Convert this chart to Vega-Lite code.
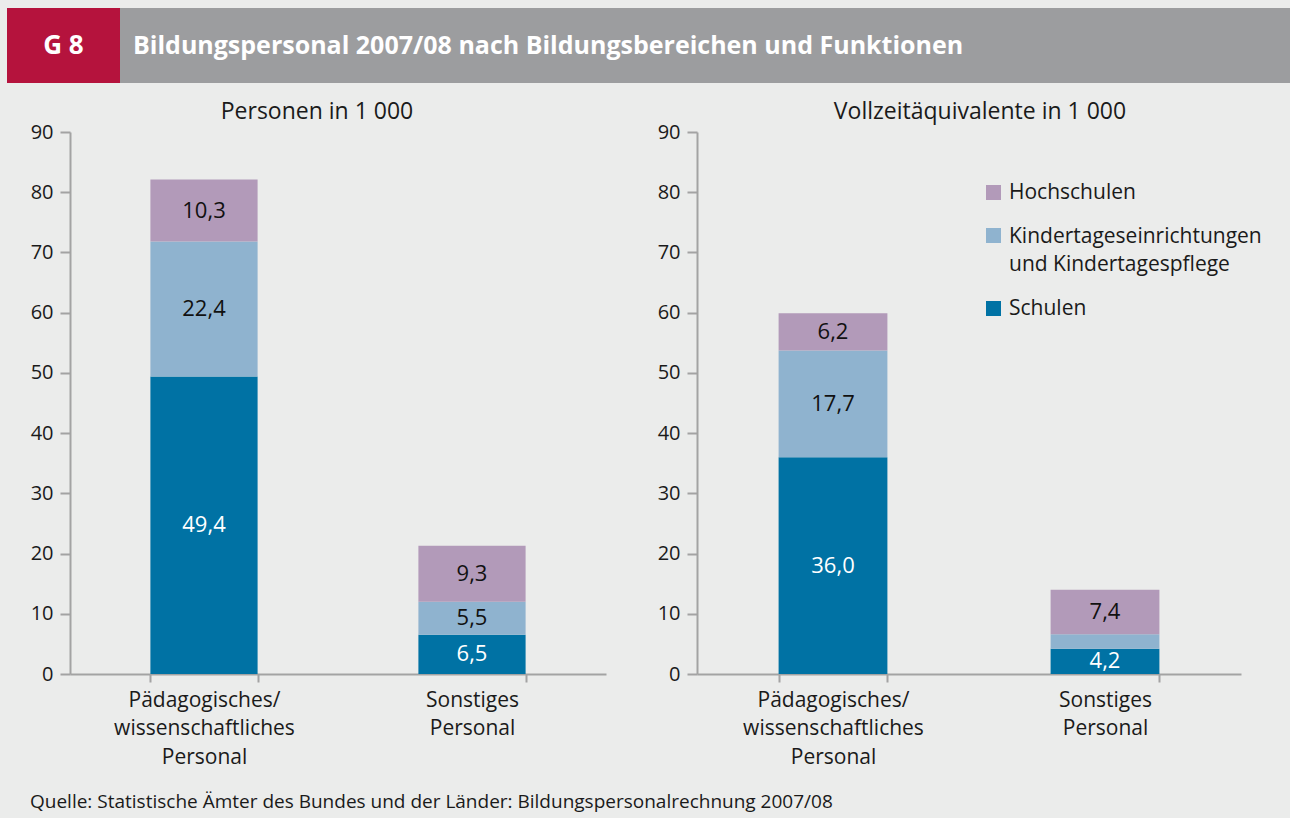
{
  "$schema": "https://vega.github.io/schema/vega-lite/v6.json",
  "background": "#ebeceb",
  "padding": {"left": 7, "top": 8, "right": 0, "bottom": 6},
  "config": {
    "font": "Open Sans",
    "view": {"stroke": null},
    "locale": {"number": {"decimal": ",", "thousands": ".", "grouping": [3], "currency": ["", " €"]}},
    "axis": {
      "domainColor": "#a3a3a3", "tickColor": "#a3a3a3", "domainWidth": 2, "tickWidth": 2,
      "labelColor": "#1a1a1a", "labelFont": "Open Sans", "grid": false, "title": null
    },
    "title": {"font": "Open Sans", "color": "#1a1a1a", "fontWeight": "normal"}
  },
  "datasets": {
    "personen": [
      {"funktion": "Pädagogisches/ wissenschaftliches Personal", "bereich": "Schulen", "ord": 1, "wert": 49.4},
      {"funktion": "Pädagogisches/ wissenschaftliches Personal", "bereich": "Kindertageseinrichtungen und Kindertagespflege", "ord": 2, "wert": 22.4},
      {"funktion": "Pädagogisches/ wissenschaftliches Personal", "bereich": "Hochschulen", "ord": 3, "wert": 10.3},
      {"funktion": "Sonstiges Personal", "bereich": "Schulen", "ord": 1, "wert": 6.5},
      {"funktion": "Sonstiges Personal", "bereich": "Kindertageseinrichtungen und Kindertagespflege", "ord": 2, "wert": 5.5},
      {"funktion": "Sonstiges Personal", "bereich": "Hochschulen", "ord": 3, "wert": 9.3}
    ],
    "vzae": [
      {"funktion": "Pädagogisches/ wissenschaftliches Personal", "bereich": "Schulen", "ord": 1, "wert": 36.0},
      {"funktion": "Pädagogisches/ wissenschaftliches Personal", "bereich": "Kindertageseinrichtungen und Kindertagespflege", "ord": 2, "wert": 17.7},
      {"funktion": "Pädagogisches/ wissenschaftliches Personal", "bereich": "Hochschulen", "ord": 3, "wert": 6.2},
      {"funktion": "Sonstiges Personal", "bereich": "Schulen", "ord": 1, "wert": 4.2},
      {"funktion": "Sonstiges Personal", "bereich": "Kindertageseinrichtungen und Kindertagespflege", "ord": 2, "wert": 2.4},
      {"funktion": "Sonstiges Personal", "bereich": "Hochschulen", "ord": 3, "wert": 7.4}
    ],
    "leer": []
  },
  "title": {
    "text": "Quelle: Statistische Ämter des Bundes und der Länder: Bildungspersonalrechnung 2007/08",
    "orient": "bottom", "anchor": "start", "frame": "group", "dx": 23, "offset": 26,
    "fontSize": 19, "baseline": "top"
  },
  "spacing": 18,
  "vconcat": [
    {
      "spacing": 0,
      "hconcat": [
        {
          "width": 113, "height": 75,
          "view": {"fill": "#b5133d", "stroke": null},
          "data": {"values": [{"t": "G 8"}]},
          "mark": {"type": "text", "color": "#ffffff", "fontWeight": "bold", "fontSize": 26, "align": "center", "baseline": "middle"},
          "encoding": {"text": {"field": "t", "type": "nominal"}}
        },
        {
          "width": 1170, "height": 75,
          "view": {"fill": "#9c9d9f", "stroke": null},
          "data": {"values": [{"t": "Bildungspersonal 2007/08 nach Bildungsbereichen und Funktionen"}]},
          "mark": {"type": "text", "color": "#ffffff", "fontWeight": "bold", "fontSize": 25, "align": "left", "baseline": "middle"},
          "encoding": {"text": {"field": "t", "type": "nominal"}, "x": {"value": 13}}
        }
      ]
    },
    {
      "spacing": 0,
      "resolve": {"scale": {"color": "independent"}},
      "hconcat": [
        {
          "width": 1, "height": 542,
          "data": {"name": "leer"},
          "mark": {"type": "text"},
          "encoding": {}
        },
        {
          "width": 536, "height": 542,
          "title": {"text": "Personen in 1 000", "frame": "group", "dx": -21, "fontSize": 23, "offset": -20, "baseline": "alphabetic"},
          "data": {"name": "personen"},
          "layer": [
            {
              "mark": {"type": "bar"},
              "encoding": {
                "x": {"field": "funktion", "type": "nominal", "sort": null,
                      "scale": {"paddingInner": 0.6, "paddingOuter": 0.3},
                      "axis": {"labelAngle": 0, "tickBand": "extent", "tickSize": 8, "labelPadding": 7, "labelFontSize": 21, "labelLineHeight": 28.5, "labelLimit": 400, "labelExpr": "split(datum.label, ' ')"}},
                "y": {"field": "wert", "type": "quantitative", "stack": "zero",
                      "scale": {"domain": [0, 90], "nice": false},
                      "axis": {"values": [0, 10, 20, 30, 40, 50, 60, 70, 80, 90], "tickSize": 10, "labelPadding": 7, "labelFontSize": 20, "minExtent": 62}},
                "order": {"field": "ord", "type": "quantitative"},
                "color": {"field": "bereich", "type": "nominal",
                          "scale": {"domain": ["Hochschulen", "Kindertageseinrichtungen und Kindertagespflege", "Schulen"], "range": ["#b29ab9", "#8fb3cf", "#0072a4"]},
                          "legend": null}
              }
            },
            {
              "mark": {"type": "text", "fontSize": 22, "baseline": "middle"},
              "encoding": {
                "x": {"field": "funktion", "type": "nominal", "sort": null},
                "y": {"field": "wert", "type": "quantitative", "stack": "zero", "bandPosition": 0.5},
                "detail": {"field": "bereich", "type": "nominal"},
                "order": {"field": "ord", "type": "quantitative"},
                "text": {"field": "wert", "type": "quantitative", "format": ".1f"},
                "color": {"condition": {"test": "datum.bereich === 'Schulen'", "value": "#ffffff"}, "value": "#111111"},
                "opacity": {"condition": {"test": "datum.wert < 3", "value": 0}, "value": 1}
              }
            }
          ]
        },
        {
          "width": 544, "height": 542,
          "title": {"text": "Vollzeitäquivalente in 1 000", "frame": "group", "dx": 11, "fontSize": 23, "offset": -20, "baseline": "alphabetic"},
          "data": {"name": "vzae"},
          "layer": [
            {
              "mark": {"type": "bar"},
              "encoding": {
                "x": {"field": "funktion", "type": "nominal", "sort": null,
                      "scale": {"paddingInner": 0.6, "paddingOuter": 0.3},
                      "axis": {"labelAngle": 0, "tickBand": "extent", "tickSize": 8, "labelPadding": 7, "labelFontSize": 21, "labelLineHeight": 28.5, "labelLimit": 400, "labelExpr": "split(datum.label, ' ')"}},
                "y": {"field": "wert", "type": "quantitative", "stack": "zero",
                      "scale": {"domain": [0, 90], "nice": false},
                      "axis": {"values": [0, 10, 20, 30, 40, 50, 60, 70, 80, 90], "tickSize": 10, "labelPadding": 7, "labelFontSize": 20, "minExtent": 91}},
                "order": {"field": "ord", "type": "quantitative"},
                "color": {"field": "bereich", "type": "nominal",
                          "scale": {"domain": ["Hochschulen", "Kindertageseinrichtungen und Kindertagespflege", "Schulen"], "range": ["#b29ab9", "#8fb3cf", "#0072a4"]},
                          "legend": {"orient": "none", "legendX": 286, "legendY": 50, "title": null, "padding": 0,
                                     "symbolType": "square", "symbolSize": 225, "symbolStrokeWidth": 0, "symbolOpacity": 1,
                                     "labelFontSize": 21, "labelColor": "#1a1a1a", "labelOffset": 5, "labelLimit": 400,
                                     "rowPadding": 22,
                                     "labelExpr": "datum.label === 'Kindertageseinrichtungen und Kindertagespflege' ? ['Kindertageseinrichtungen', 'und Kindertagespflege'] : datum.label",
                                     "encode": {"labels": {"update": {"lineHeight": {"value": 28}, "dy": {"signal": "datum.value === 'Kindertageseinrichtungen und Kindertagespflege' ? 1 : 0"}}}}}}
              }
            },
            {
              "mark": {"type": "text", "fontSize": 22, "baseline": "middle"},
              "encoding": {
                "x": {"field": "funktion", "type": "nominal", "sort": null},
                "y": {"field": "wert", "type": "quantitative", "stack": "zero", "bandPosition": 0.5},
                "detail": {"field": "bereich", "type": "nominal"},
                "order": {"field": "ord", "type": "quantitative"},
                "text": {"field": "wert", "type": "quantitative", "format": ".1f"},
                "color": {"condition": {"test": "datum.bereich === 'Schulen'", "value": "#ffffff"}, "value": "#111111"},
                "opacity": {"condition": {"test": "datum.wert < 3", "value": 0}, "value": 1}
              }
            }
          ]
        }
      ]
    }
  ]
}
